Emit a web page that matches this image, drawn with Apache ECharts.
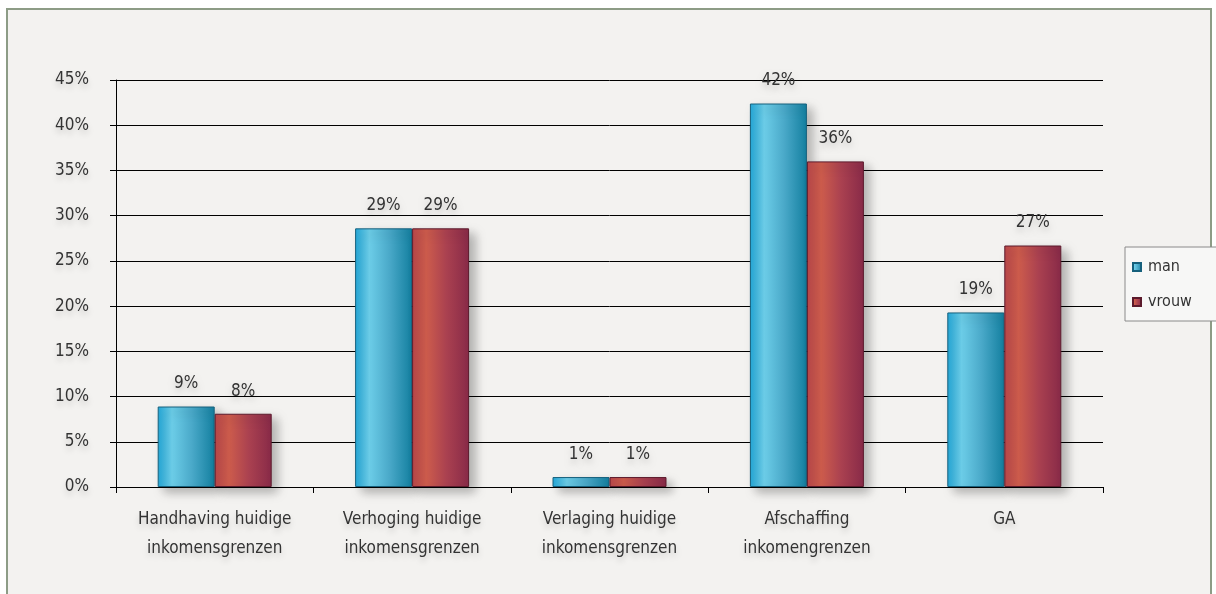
<!DOCTYPE html>
<html>
<head>
<meta charset="utf-8">
<script src="https://cdn.jsdelivr.net/npm/echarts@6/dist/echarts.min.js"></script>
<style>
  html, body { margin: 0; padding: 0; background: #ffffff; }
  #frame { position: absolute; left: 6px; top: 8px; width: 1206px; height: 600px;
           border: 2px solid #8d9c86; background: #f3f2f0; box-sizing: border-box; }
  #chart { position: absolute; left: 0; top: 0; width: 1216px; height: 594px; }
</style>
</head>
<body>
<div id="frame"></div>
<div id="chart"></div>
<script>
// Categories (two-line labels) and percentages per group
const categories = [
  'Handhaving huidige\ninkomensgrenzen',
  'Verhoging huidige\ninkomensgrenzen',
  'Verlaging huidige\ninkomensgrenzen',
  'Afschaffing\ninkomengrenzen',
  'GA'
];
const manValues   = [8.9, 28.6, 1.1, 42.4, 19.3];
const vrouwValues = [8.1, 28.6, 1.1, 36.0, 26.7];
const yTicks = [0, 5, 10, 15, 20, 25, 30, 35, 40, 45];

const FONT = '"Liberation Sans Narrow", "DejaVu Sans Condensed", sans-serif';
const TEXT = '#333333';

function cyl(stops) {
  return new echarts.graphic.LinearGradient(0, 0, 1, 0,
    stops.map(s => ({ offset: s[0], color: s[1] })));
}
const manFill = cyl([[0, '#23a6d6'], [0.25, '#6ccde8'], [0.6, '#4aa9c9'], [1, '#137f9f']]);
const vrouwFill = cyl([[0, '#b8474a'], [0.25, '#cd5c4c'], [0.6, '#aa4150'], [1, '#882a48']]);

const labelStyle = {
  show: true,
  position: 'top',
  distance: 14,
  fontFamily: FONT,
  fontSize: 17,
  color: TEXT,
  textShadowColor: 'rgba(0,0,0,0.18)',
  textShadowBlur: 6,
  textShadowOffsetY: 4,
  formatter: p => Math.round(p.value) + '%'
};

const chart = echarts.init(document.getElementById('chart'), null, { renderer: 'canvas' });
chart.setOption({
  backgroundColor: 'transparent',
  animation: false,
  grid: { left: 116, right: 113, top: 80, bottom: 107 },
  legend: {
    orient: 'vertical',
    left: 1125,
    top: 247,
    padding: [12, 60, 11, 7],
    itemGap: 19,
    itemWidth: 8,
    itemHeight: 8,
    backgroundColor: '#f7f7f6',
    borderColor: '#8a8a8a',
    borderWidth: 1,
    icon: 'rect',
    textStyle: { fontFamily: FONT, fontSize: 16, color: TEXT, padding: [0, 0, 0, 2] },
    data: ['man', 'vrouw']
  },
  xAxis: {
    type: 'category',
    data: categories,
    axisLine: { show: true, lineStyle: { color: '#000', width: 1 } },
    axisTick: { show: true, length: 6, lineStyle: { color: '#000' } },
    axisLabel: {
      interval: 0,
      fontFamily: FONT, fontSize: 17, color: TEXT, lineHeight: 29, margin: 18,
      textShadowColor: 'rgba(0,0,0,0.18)', textShadowBlur: 6, textShadowOffsetY: 4
    }
  },
  yAxis: {
    type: 'value',
    min: yTicks[0],
    max: yTicks[yTicks.length - 1],
    interval: 5,
    axisLine: { show: true, lineStyle: { color: '#000', width: 1 } },
    axisTick: { show: true, length: 6, lineStyle: { color: '#000' } },
    splitLine: { show: true, lineStyle: { color: '#000', width: 1 } },
    axisLabel: {
      fontFamily: FONT, fontSize: 17, color: TEXT, margin: 27,
      formatter: v => v + '%',
      textShadowColor: 'rgba(0,0,0,0.18)', textShadowBlur: 6, textShadowOffsetY: 4
    }
  },
  series: [
    {
      name: 'man',
      type: 'bar',
      data: manValues,
      barWidth: 57,
      barGap: '0%',
      itemStyle: {
        color: manFill, borderColor: '#16607c', borderWidth: 1,
        shadowColor: 'rgba(0,0,0,0.28)', shadowBlur: 10, shadowOffsetX: 6, shadowOffsetY: 5
      },
      label: labelStyle
    },
    {
      name: 'vrouw',
      type: 'bar',
      data: vrouwValues,
      barWidth: 57,
      itemStyle: {
        color: vrouwFill, borderColor: '#5c1a2c', borderWidth: 1,
        shadowColor: 'rgba(0,0,0,0.28)', shadowBlur: 10, shadowOffsetX: 6, shadowOffsetY: 5
      },
      label: labelStyle
    }
  ]
});
</script>
</body>
</html>
